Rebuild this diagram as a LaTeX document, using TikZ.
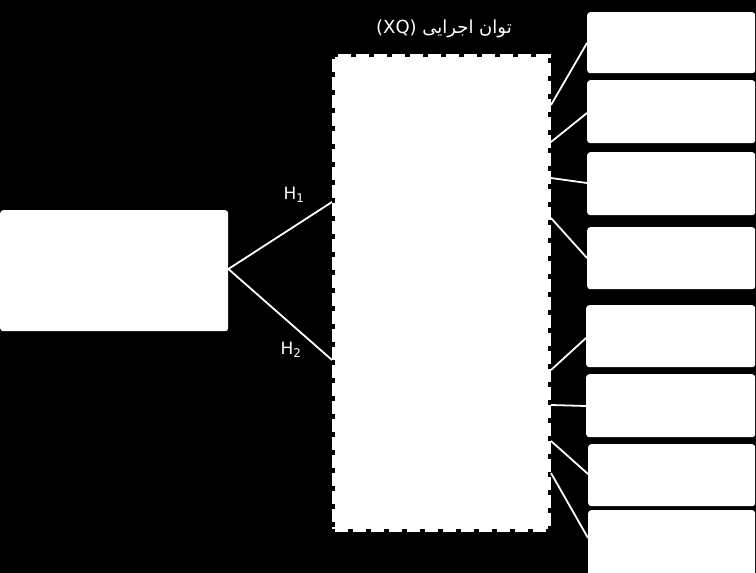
\documentclass[tikz,border=0pt]{standalone}
\usepackage{fontspec}
\setmainfont{DejaVu Sans}
\newfontfamily\arabicfont[Script=Arabic]{DejaVu Sans}
\TeXXeTstate=1
\begin{document}
\begin{tikzpicture}[x=1pt,y=-1pt,
  wbox/.style={draw=none,fill=white,rounded corners=3pt,anchor=north west,inner sep=0pt},
  dbox/.style={fill=white,draw=white,line width=6pt,dash pattern=on 13pt off 5pt,anchor=north west,inner sep=0pt},
  conn/.style={draw=white,line width=1.8pt},
  lbl/.style={text=white,font=\fontsize{17}{20}\selectfont,inner sep=0pt}]
\fill[black] (0,0) rectangle (756,573);
\useasboundingbox (0,0) rectangle (756,573);
% left box
\node[wbox,minimum width=228pt,minimum height=121pt] (L) at (0,210) {};
% dashed box
\node[dbox,minimum width=213pt,minimum height=472pt] (D) at (332,54) {};
% right boxes
\node[wbox,minimum width=168pt,minimum height=61pt] (r1) at (587,12) {};
\node[wbox,minimum width=168pt,minimum height=63pt] (r2) at (587,80) {};
\node[wbox,minimum width=168pt,minimum height=63pt] (r3) at (587,152) {};
\node[wbox,minimum width=168pt,minimum height=62pt] (r4) at (587,227) {};
\node[wbox,minimum width=169pt,minimum height=62pt] (r5) at (586,305) {};
\node[wbox,minimum width=169pt,minimum height=63pt] (r6) at (586,374) {};
\node[wbox,minimum width=167pt,minimum height=62pt] (r7) at (588,444) {};
\node[wbox,minimum width=167pt,minimum height=70pt] (r8) at (588,510) {};
% title
\node[lbl,font=\fontsize{18}{21}\selectfont] (T) at (444,29) {\arabicfont\beginL(XQ)\endL\ \beginR توان اجرایی\endR};
% labels
\node[lbl] (h1) at (294,195) {H\textsubscript{1}};
\node[lbl] (h2) at (291,350) {H\textsubscript{2}};
% left connectors
\coordinate (apex) at ([yshift=-59pt]L.north east);
\draw[conn] (apex) -- ([yshift=-148pt]D.north west);
\draw[conn] (apex) -- ([yshift=-306pt]D.north west);
% right connectors
\draw[conn] ([yshift=-51pt]D.north east) -- ([yshift=-31pt]r1.north west);
\draw[conn] ([yshift=-88pt]D.north east) -- ([yshift=-33pt]r2.north west);
\draw[conn] ([yshift=-124pt]D.north east) -- ([yshift=-31pt]r3.north west);
\draw[conn] ([yshift=-164pt]D.north east) -- ([yshift=-31pt]r4.north west);
\draw[conn] ([yshift=-316pt]D.north east) -- ([yshift=-33pt]r5.north west);
\draw[conn] ([yshift=-351pt]D.north east) -- ([yshift=-32pt]r6.north west);
\draw[conn] ([yshift=-387pt]D.north east) -- ([yshift=-30pt]r7.north west);
\draw[conn] ([yshift=-419pt]D.north east) -- ([yshift=-28pt]r8.north west);
\end{tikzpicture}
\end{document}
